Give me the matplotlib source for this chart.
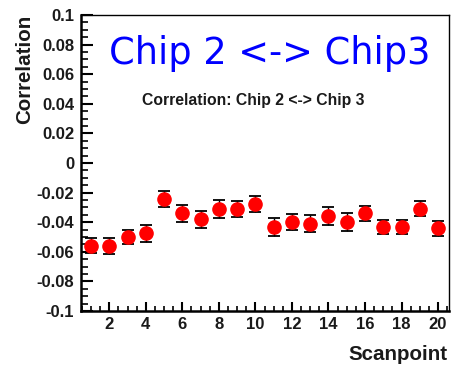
import matplotlib

matplotlib.use("Agg")
import matplotlib.pyplot as plt  # noqa: E402
from matplotlib.ticker import MultipleLocator  # noqa: E402

# Data
scanpoints = list(range(1, 21))
correlation = [-0.056, -0.056, -0.050, -0.0475, -0.024, -0.034, -0.038, -0.031, -0.031, -0.028,
               -0.043, -0.040, -0.041, -0.0356, -0.040, -0.034, -0.043, -0.043, -0.031, -0.044]
errors = [0.005, 0.0056, 0.005, 0.0057, 0.0054, 0.0057, 0.0056, 0.006, 0.0054, 0.0054,
          0.006, 0.0053, 0.0056, 0.006, 0.006, 0.005, 0.0048, 0.0048, 0.005, 0.005]
y_ticks = [0.1, 0.08, 0.06, 0.04, 0.02, 0, -0.02, -0.04, -0.06, -0.08, -0.1]
y_tick_labels = ["0.1", "0.08", "0.06", "0.04", "0.02", "0", "-0.02", "-0.04", "-0.06", "-0.08", "-0.1"]
x_ticks = [2, 4, 6, 8, 10, 12, 14, 16, 18, 20]

fig = plt.figure(figsize=(4.51, 3.68), dpi=100)
ax = fig.add_axes([81 / 451, 1 - 311 / 368, 368 / 451, 296 / 368])

ax.errorbar(scanpoints, correlation, yerr=errors, fmt="o", color="red", markersize=9.5,
            ecolor="black", elinewidth=1.0, capsize=4, capthick=1.3, zorder=3)

ax.set_xlim(0.45, 20.6)
ax.set_ylim(-0.1, 0.1)
ax.set_xticks(x_ticks)
ax.set_yticks(y_ticks)
ax.set_yticklabels(y_tick_labels)
ax.xaxis.set_minor_locator(MultipleLocator(0.5))
ax.yaxis.set_minor_locator(MultipleLocator(0.005))

ax.tick_params(axis="y", which="major", direction="in", length=8.5, width=1.5, pad=5)
ax.tick_params(axis="y", which="minor", direction="in", length=5, width=1.2)
ax.tick_params(axis="x", which="major", direction="in", length=6.5, width=1.5, pad=4)
ax.tick_params(axis="x", which="minor", direction="in", length=3.5, width=1.2)
for lab in ax.get_xticklabels() + ax.get_yticklabels():
    lab.set_fontfamily("Liberation Sans")
    lab.set_fontweight("bold")
    lab.set_fontsize(12)
    lab.set_color("#1a1a1a")

ax.spines["left"].set_linewidth(1.8)
ax.spines["bottom"].set_linewidth(1.8)
ax.spines["top"].set_linewidth(1.0)
ax.spines["right"].set_linewidth(1.0)

fig.text(25 / 451, 1 - 15 / 368, "Correlation", rotation=90, ha="center", va="top",
         fontfamily="Liberation Sans", fontweight="bold", fontsize=14.8, color="#1a1a1a")
fig.text(448 / 451, 1 - 354 / 368, "Scanpoint", ha="right", va="center",
         fontfamily="Liberation Sans", fontweight="bold", fontsize=14.8, color="#1a1a1a")

fig.text(270 / 451, 1 - 53 / 368, "Chip 2 <-> Chip3", ha="center", va="center",
         fontfamily="DejaVu Sans", fontsize=26.5, color="blue")
fig.text(253 / 451, 1 - 100 / 368, "Correlation: Chip 2 <-> Chip 3", ha="center", va="center",
         fontfamily="Liberation Sans", fontweight="bold", fontsize=11.3, color="#1a1a1a")

fig.savefig("out.png", dpi=100)
plt.close(fig)
